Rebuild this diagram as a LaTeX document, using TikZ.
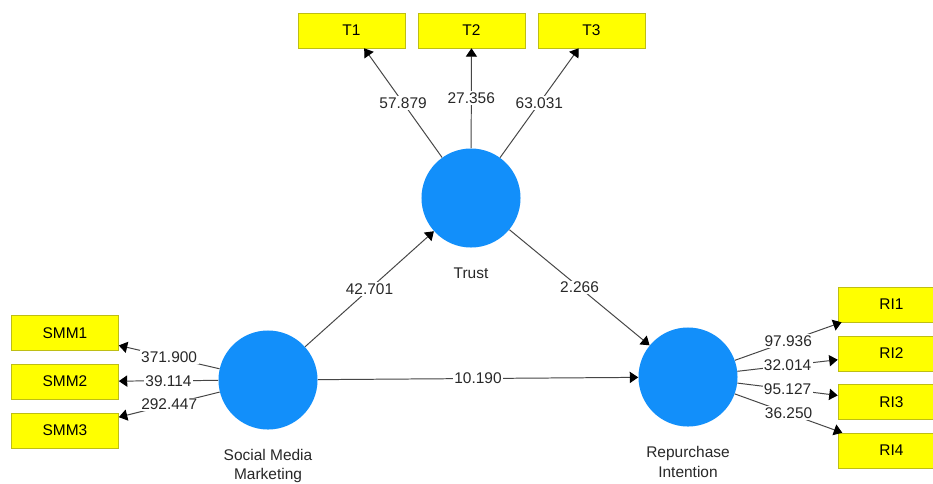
\documentclass[tikz,border=0pt]{standalone}
\usepackage{fontspec}
\setmainfont{Liberation Sans}
\usetikzlibrary{arrows.meta,positioning}
\definecolor{lvblue}{RGB}{18,143,250}
\definecolor{mvyellow}{RGB}{255,255,0}
\definecolor{mvborder}{RGB}{190,190,20}
\definecolor{pathgray}{RGB}{70,70,70}
\definecolor{txtgray}{RGB}{40,40,40}

\begin{document}
\begin{tikzpicture}[x=0.025cm, y=-0.025cm,
  lv/.style={circle, fill=lvblue, minimum size=2.475cm, inner sep=0pt},
  mv/.style={draw=mvborder, fill=mvyellow, rectangle, minimum width=2.675cm, minimum height=0.875cm, font=\fontsize{11}{13}\selectfont},
  lvname/.style={align=center, font=\fontsize{11}{14}\selectfont, text=txtgray},
  val/.style={fill=white, inner sep=1pt, text=txtgray, font=\fontsize{11}{13}\selectfont},
  arr/.style={-{Triangle[length=6pt,width=8pt,color=black]}, line width=0.7pt, draw=pathgray}
]
\clip (0,0) rectangle (933,483);
\fill[white] (0,0) rectangle (933,483);

\node[lv] (trust) at (471,198) {};
\node[lv] (smm) at (268,380) {};
\node[lv] (ri) at (688,377) {};
\node[lvname] (trustlbl) at (471,273) {Trust};
\node[lvname] (smmlbl) at (268,466) {Social Media\\Marketing};
\node[lvname] (rilbl) at (688,462) {Repurchase\\Intention};

\node[mv] (t1) at (351.5,30.5) {T1};
\node[mv] (t2) at (471.5,30.5) {T2};
\node[mv] (t3) at (591.5,30.5) {T3};
\node[mv] (smm1) at (65,333) {SMM1};
\node[mv] (smm2) at (65,381.5) {SMM2};
\node[mv] (smm3) at (65,430.5) {SMM3};
\node[mv] (ri1) at (891.5,304.5) {RI1};
\node[mv] (ri2) at (891.5,353.5) {RI2};
\node[mv] (ri3) at (891.5,402) {RI3};
\node[mv] (ri4) at (891.5,450.5) {RI4};

\draw[arr] (trust) -- node[val]{57.879} (t1);
\draw[arr] (trust) -- node[val]{27.356} (t2);
\draw[arr] (trust) -- node[val]{63.031} (t3);
\draw[arr] (smm) -- node[val]{371.900} (smm1);
\draw[arr] (smm) -- node[val]{39.114} (smm2);
\draw[arr] (smm) -- node[val]{292.447} (smm3);
\draw[arr] (ri) -- node[val]{97.936} (ri1);
\draw[arr] (ri) -- node[val]{32.014} (ri2);
\draw[arr] (ri) -- node[val]{95.127} (ri3);
\draw[arr] (ri) -- node[val]{36.250} (ri4);
\draw[arr] (smm) -- node[val]{42.701} (trust);
\draw[arr] (trust) -- node[val]{2.266} (ri);
\draw[arr] (smm) -- node[val]{10.190} (ri);
\end{tikzpicture}
\end{document}
